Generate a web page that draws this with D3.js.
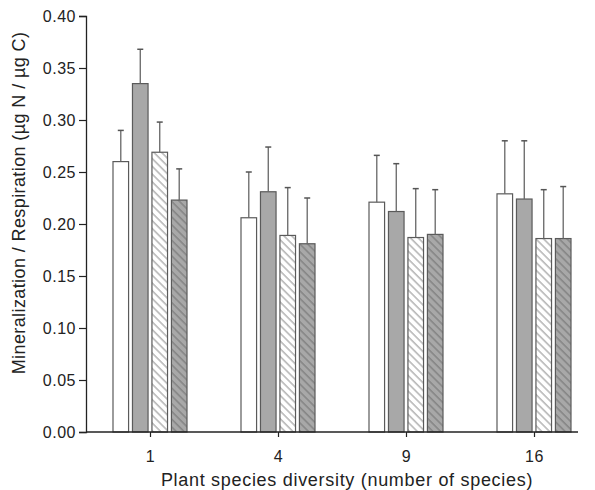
<!DOCTYPE html>
<html>
<head>
<meta charset="utf-8">
<script src="https://cdn.jsdelivr.net/npm/d3@7"></script>
<style>
  body { margin: 0; background: #fff; }
  text { font-family: "Liberation Sans", Arial, Helvetica, sans-serif; fill: #222; }
</style>
</head>
<body>
<svg id="chart" width="595" height="490"></svg>
<script>
// dữ liệu
const groups = ["1", "4", "9", "16"];
const seriesNames = ["s1", "s2", "s3", "s4"];
const means = [
  [0.260, 0.335, 0.269, 0.223],
  [0.206, 0.231, 0.189, 0.181],
  [0.221, 0.212, 0.187, 0.190],
  [0.229, 0.224, 0.186, 0.186]
];
const errTops = [
  [0.290, 0.368, 0.298, 0.253],
  [0.250, 0.274, 0.235, 0.225],
  [0.266, 0.258, 0.234, 0.233],
  [0.280, 0.280, 0.233, 0.236]
];
const yTicks = [0, 0.05, 0.1, 0.15, 0.2, 0.25, 0.3, 0.35, 0.4];

const data = [];
groups.forEach((g, i) => seriesNames.forEach((s, j) => {
  data.push({ group: g, series: s, value: means[i][j], err: errTops[i][j] });
}));

const svg = d3.select("#chart"),
      margin = {top: 16, right: 17, bottom: 58, left: 86},
      width = +svg.attr("width") - margin.left - margin.right,
      height = +svg.attr("height") - margin.top - margin.bottom;

// hoa văn gạch chéo
const defs = svg.append("defs");
function hatch(id, bg, lineColor) {
  const p = defs.append("pattern")
    .attr("id", id)
    .attr("patternUnits", "userSpaceOnUse")
    .attr("width", 5.5).attr("height", 10)
    .attr("patternTransform", "rotate(-45)");
  p.append("rect").attr("width", 5.5).attr("height", 10).attr("fill", bg);
  p.append("line").attr("x1", 1).attr("x2", 1).attr("y1", 0).attr("y2", 10)
    .attr("stroke", lineColor).attr("stroke-width", 1.2);
}
hatch("hatchLight", "#fff", "#a0a0a0");
hatch("hatchDark", "#a8a8a8", "#7a7a7a");

const fills = {s1: "#fff", s2: "#a8a8a8", s3: "url(#hatchLight)", s4: "url(#hatchDark)"};

const g = svg.append("g").attr("transform", `translate(${margin.left},${margin.top})`);

const x = d3.scalePoint().domain(groups).range([64, 448]);
const xs = d3.scaleBand().domain(seriesNames).range([-37, 37]).paddingInner(0.2);
const y = d3.scaleLinear().domain([0, 0.4]).range([height, 0]);

// cột
g.selectAll("rect.bar")
  .data(data)
  .enter().append("rect")
    .attr("class", "bar")
    .attr("x", d => x(d.group) + xs(d.series))
    .attr("y", d => y(d.value))
    .attr("width", xs.bandwidth())
    .attr("height", d => height - y(d.value))
    .attr("fill", d => fills[d.series])
    .attr("stroke", "#5a5a5a")
    .attr("stroke-width", 1.2);

// thanh sai số
const eb = g.selectAll("g.err").data(data).enter().append("g").attr("class", "err");
eb.append("line")
  .attr("x1", d => x(d.group) + xs(d.series) + xs.bandwidth() / 2)
  .attr("x2", d => x(d.group) + xs(d.series) + xs.bandwidth() / 2)
  .attr("y1", d => y(d.value))
  .attr("y2", d => y(d.err))
  .attr("stroke", "#666").attr("stroke-width", 1.3);
eb.append("line")
  .attr("x1", d => x(d.group) + xs(d.series) + xs.bandwidth() / 2 - 3)
  .attr("x2", d => x(d.group) + xs(d.series) + xs.bandwidth() / 2 + 3)
  .attr("y1", d => y(d.err))
  .attr("y2", d => y(d.err))
  .attr("stroke", "#555").attr("stroke-width", 1.5);

// trục X
const xAxis = g.append("g")
  .attr("transform", `translate(0,${height})`)
  .call(d3.axisBottom(x).tickSize(5).tickPadding(14));
xAxis.select(".domain").remove();
xAxis.append("line").attr("x1", 0).attr("x2", width).attr("stroke", "#222").attr("stroke-width", 1.3);
xAxis.selectAll(".tick line").attr("stroke", "#222").attr("stroke-width", 1.2);
xAxis.selectAll("text")
  .style("font-size", "16px")
  .style("letter-spacing", "0.5px")
  .attr("fill", "#222");

// trục Y
const yAxis = g.append("g")
  .call(d3.axisLeft(y).tickValues(yTicks).tickFormat(d3.format(".2f")).tickSize(7).tickPadding(3));
yAxis.select(".domain").attr("stroke", "#222").attr("stroke-width", 1.3);
yAxis.selectAll(".tick line").attr("stroke", "#222").attr("stroke-width", 1.2);
yAxis.selectAll("text")
  .style("font-size", "16px")
  .style("letter-spacing", "0.5px")
  .attr("fill", "#222");

// nhãn trục
svg.append("text")
  .attr("x", (150 + 534) / 2 + 5)
  .attr("y", 486)
  .attr("text-anchor", "middle")
  .style("font-size", "18px")
  .style("letter-spacing", "0.7px")
  .text("Plant species diversity (number of species)");

svg.append("text")
  .attr("transform", `translate(25,${203}) rotate(-90)`)
  .attr("text-anchor", "middle")
  .style("font-size", "18px")
  .style("letter-spacing", "0.4px")
  .text("Mineralization / Respiration (µg N / µg C)");
</script>
</body>
</html>
